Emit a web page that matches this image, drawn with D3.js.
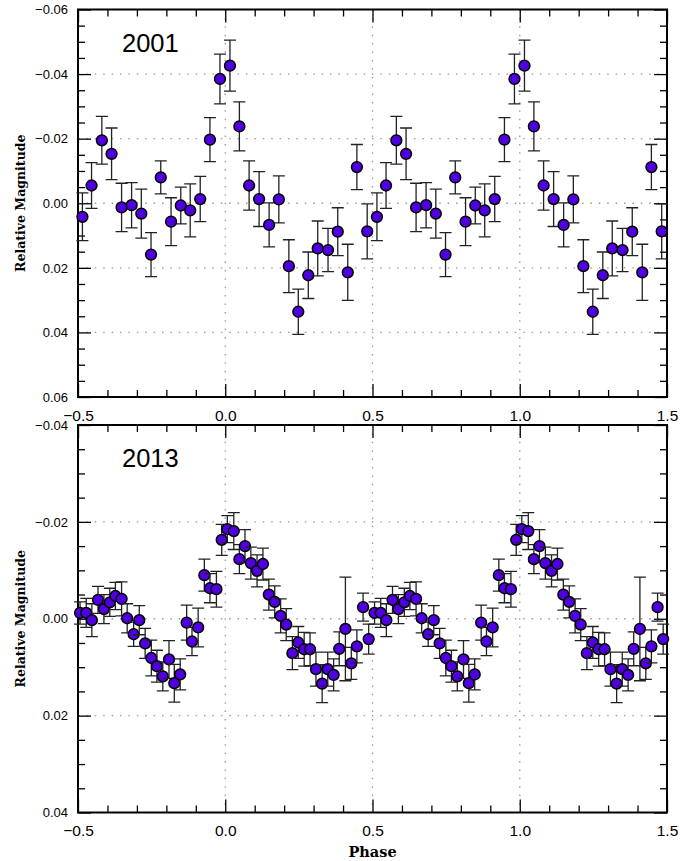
<!DOCTYPE html>
<html lang="en">
<head>
<meta charset="UTF-8">
<title>Phased light curves 2001 / 2013</title>
<script src="https://cdn.jsdelivr.net/npm/d3@7/dist/d3.min.js"></script>
<style>
  body { margin: 0; background: #fff; }
  .tick text { font-family: "Liberation Sans", Arial, sans-serif; fill: #000; }
  .axis-title { font-family: "DejaVu Serif", serif; font-weight: bold; }
</style>
</head>
<body>
<svg id="mainsvg" width="692" height="861"></svg>
<script>
    // 2001 season, one cycle (phase, relative mag, error)
    const phase2001 = [-0.485, -0.454, -0.419, -0.386, -0.352, -0.318, -0.285, -0.252, -0.219, -0.184,
        -0.151, -0.119, -0.085, -0.052, -0.018, 0.016, 0.048, 0.081, 0.115, 0.149,
        0.182, 0.216, 0.248, 0.282, 0.314, 0.349, 0.382, 0.416, 0.447, 0.482];
    const mag2001 = [0.0042, -0.0055, -0.0195, -0.0153, 0.0013, 0.0006, 0.0032, 0.0159, -0.0080, 0.0057,
        0.0007, 0.0022, -0.0013, -0.0197, -0.0385, -0.0426, -0.0238, -0.0055, -0.0013, 0.0067,
        -0.0012, 0.0195, 0.0336, 0.0223, 0.0140, 0.0145, 0.0088, 0.0214, -0.0112, 0.0087];
    const err2001 = [0.0074, 0.0071, 0.0074, 0.0080, 0.0075, 0.0070, 0.0076, 0.0068, 0.0051, 0.0074,
        0.0057, 0.0082, 0.0070, 0.0068, 0.0077, 0.0079, 0.0076, 0.0076, 0.0085, 0.0068,
        0.0073, 0.0082, 0.0070, 0.0072, 0.0085, 0.0067, 0.0074, 0.0087, 0.0070, 0.0085];

    // 2013 season, one cycle
    const phase2013 = [-0.493, -0.472, -0.453, -0.432, -0.412, -0.392, -0.373, -0.352, -0.333, -0.311,
        -0.292, -0.272, -0.251, -0.232, -0.212, -0.191, -0.173, -0.153, -0.131, -0.113,
        -0.092, -0.071, -0.052, -0.030, -0.012, 0.007, 0.029, 0.048, 0.067, 0.087,
        0.108, 0.128, 0.148, 0.168, 0.188, 0.207, 0.228, 0.248, 0.268, 0.288,
        0.308, 0.329, 0.348, 0.368, 0.387, 0.408, 0.428, 0.447, 0.468, 0.487];
    const mag2013 = [-0.0012, -0.0012, 0.0003, -0.0039, -0.0020, -0.0034, -0.0047, -0.0041, -0.0001, 0.0032,
        0.0003, 0.0051, 0.0081, 0.0098, 0.0119, 0.0084, 0.0133, 0.0115, 0.0008, 0.0047,
        0.0018, -0.0090, -0.0063, -0.0061, -0.0163, -0.0185, -0.0181, -0.0123, -0.0150, -0.0115,
        -0.0099, -0.0113, -0.0050, -0.0035, -0.0006, 0.0012, 0.0071, 0.0049, 0.0063, 0.0063,
        0.0104, 0.0134, 0.0104, 0.0116, 0.0062, 0.0021, 0.0092, 0.0057, -0.0024, 0.0042];
    const err2013 = [0.0023, 0.0030, 0.0034, 0.0028, 0.0030, 0.0029, 0.0028, 0.0035, 0.0030, 0.0025,
        0.0030, 0.0031, 0.0037, 0.0033, 0.0030, 0.0039, 0.0039, 0.0032, 0.0036, 0.0029,
        0.0040, 0.0033, 0.0030, 0.0037, 0.0032, 0.0028, 0.0038, 0.0030, 0.0034, 0.0033,
        0.0033, 0.0033, 0.0032, 0.0033, 0.0035, 0.0033, 0.0034, 0.0033, 0.0035, 0.0034,
        0.0035, 0.0039, 0.0035, 0.0033, 0.0035, 0.0107, 0.0033, 0.0034, 0.0029, 0.0031];

    const xMajor = [-0.5, 0, 0.5, 1.0, 1.5];
    const xMinor = [-0.4, -0.3, -0.2, -0.1, 0.1, 0.2, 0.3, 0.4, 0.6, 0.7, 0.8, 0.9, 1.1, 1.2, 1.3, 1.4];
    const yMajor2001 = [-0.06, -0.04, -0.02, 0, 0.02, 0.04, 0.06];
    const yMajor2013 = [-0.04, -0.02, 0, 0.02, 0.04];

    const svg = d3.select('#mainsvg');
    const left = 78, right = 667;
    const dotColor = '#5000e0';

    const panels = [
        {label: '2001', top: 9.5, bottom: 397, yDomain: [-0.06, 0.06], yMajor: yMajor2001,
         phase: phase2001, mag: mag2001, err: err2001},
        {label: '2013', top: 425, bottom: 812.5, yDomain: [-0.04, 0.04], yMajor: yMajor2013,
         phase: phase2013, mag: mag2013, err: err2013}
    ];

    // minor y ticks every 0.005 between the majors
    const minorY = (dom, majors) => d3.range(Math.round(dom[0] / 0.005), Math.round(dom[1] / 0.005) + 1)
        .map(i => +(i * 0.005).toFixed(3))
        .filter(v => !majors.some(m => Math.abs(m - v) < 1e-9));

    panels.forEach(p => {
        const x = d3.scaleLinear().domain([-0.5, 1.5]).range([left, right]);
        const y = d3.scaleLinear().domain(p.yDomain).range([p.top, p.bottom]);
        const g = svg.append('g');
        const h = p.bottom - p.top, w = right - left;

        // dotted grid
        const grid = g.append('g').attr('stroke', '#9a9a9a').attr('stroke-width', 1.3)
            .attr('stroke-dasharray', '1.5,6.9');
        grid.selectAll('line.gx').data(xMajor.slice(1, -1)).join('line')
            .attr('x1', d => x(d)).attr('x2', d => x(d))
            .attr('y1', p.top).attr('y2', p.bottom);
        grid.selectAll('line.gy').data(p.yMajor.slice(1, -1)).join('line')
            .attr('y1', d => y(d)).attr('y2', d => y(d))
            .attr('x1', left).attr('x2', right);

        // axes, ticks pointing inward on all four sides
        const yMin = minorY(p.yDomain, p.yMajor);
        g.append('g').attr('transform', `translate(0,${p.bottom})`)
            .call(d3.axisBottom(x).tickValues(xMajor).tickSize(-13).tickPadding(12.5).tickFormat(d3.format('.1f')))
            .call(a => a.selectAll('text').attr('font-size', 15.5));
        g.append('g').attr('transform', `translate(0,${p.bottom})`)
            .call(d3.axisBottom(x).tickValues(xMinor).tickSize(-7).tickFormat(''));
        g.append('g').attr('transform', `translate(0,${p.top})`)
            .call(d3.axisTop(x).tickValues(xMajor).tickSize(-13).tickFormat(''));
        g.append('g').attr('transform', `translate(0,${p.top})`)
            .call(d3.axisTop(x).tickValues(xMinor).tickSize(-7).tickFormat(''));
        g.append('g').attr('transform', `translate(${left},0)`)
            .call(d3.axisLeft(y).tickValues(p.yMajor).tickSize(-13).tickPadding(10).tickFormat(d3.format('.2f')))
            .call(a => a.selectAll('text').attr('font-size', 13));
        g.append('g').attr('transform', `translate(${left},0)`)
            .call(d3.axisLeft(y).tickValues(yMin).tickSize(-7).tickFormat(''));
        g.append('g').attr('transform', `translate(${right},0)`)
            .call(d3.axisRight(y).tickValues(p.yMajor).tickSize(-13).tickFormat(''));
        g.append('g').attr('transform', `translate(${right},0)`)
            .call(d3.axisRight(y).tickValues(yMin).tickSize(-7).tickFormat(''));
        g.selectAll('.domain').remove();
        g.selectAll('.tick line').attr('stroke', '#000').attr('stroke-width', 1.3);

        // frame
        g.append('rect').attr('x', left).attr('y', p.top).attr('width', w).attr('height', h)
            .attr('fill', 'none').attr('stroke', '#000').attr('stroke-width', 2);

        // season label
        g.append('text').attr('x', 122).attr('y', p.top + 42)
            .attr('font-family', '"Liberation Sans", Arial, sans-serif').attr('font-size', 25.5)
            .text(p.label);

        // one cycle, plotted twice (phase and phase + 1)
        const pts = [];
        [0, 1].forEach(shift => p.phase.forEach((ph, i) => {
            const px = ph + shift;
            if (px >= -0.5 && px <= 1.5) pts.push({ph: px, m: p.mag[i], e: p.err[i]});
        }));
        const cap = 6;
        const pg = g.selectAll('g.pt').data(pts).join('g').attr('class', 'pt');
        pg.append('path')
            .attr('d', d => {
                const cx = x(d.ph), y0 = y(d.m - d.e), y1 = y(d.m + d.e);
                return `M${cx},${y0}V${y1}M${cx - cap},${y0}H${cx + cap}M${cx - cap},${y1}H${cx + cap}`;
            })
            .attr('stroke', '#222').attr('stroke-width', 1.3).attr('fill', 'none');
        pg.append('circle')
            .attr('cx', d => x(d.ph)).attr('cy', d => y(d.m)).attr('r', 5.4)
            .attr('fill', dotColor).attr('stroke', '#000').attr('stroke-width', 1.5);

        // y axis title
        svg.append('text').attr('class', 'axis-title')
            .attr('transform', `translate(21,${(p.top + p.bottom) / 2}) rotate(-90)`)
            .attr('text-anchor', 'middle').attr('dy', '0.35em').attr('font-size', 12.5)
            .text('Relative Magnitude');
    });

    svg.append('text').attr('class', 'axis-title')
        .attr('x', (left + right) / 2).attr('y', 857)
        .attr('text-anchor', 'middle').attr('font-size', 14.5)
        .text('Phase');
</script>
</body>
</html>
